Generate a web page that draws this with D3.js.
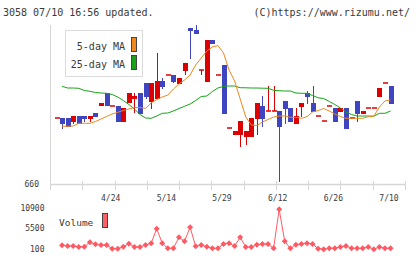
<!DOCTYPE html>
<html>
<head>
<meta charset="utf-8">
<script src="https://cdn.jsdelivr.net/npm/d3@7"></script>
<style>
  body { margin: 0; background: #fff; }
  text { font-family: "DejaVu Sans Mono", monospace; fill: #3a3a3a; }
</style>
</head>
<body>
<div id="chart-area"></div>
<script>
// daily candles, oldest first (price in yen)
var openP  = [725,725,725,721,727,727,724,730,737,750,737,737,721,740,744,750,760,741,744,762,
              768,768,759,772,815,813,773,761,803,768,778,715,708,708,706,706,724,737,732,732,
              732,742,735,719,736,750,740,727,722,737,735,731,735,725,742,729,735,735,746,760,757];
var highP  = [725,725,725,727,727,727,727,730,740,750,737,737,735,750,750,750,760,760,790,765,
              768,768,765,780,815,818,773,803,803,768,778,715,712,722,712,725,740,747,757,757,
              732,742,735,735,740,752,757,727,722,737,735,735,735,725,742,732,735,735,755,760,757];
var lowP   = [725,714,716,719,719,721,721,726,737,737,737,721,721,740,730,729,744,734,744,754,
              768,760,759,768,784,809,768,761,799,768,729,715,708,696,698,706,708,716,732,732,
              661,719,721,719,726,739,731,727,722,737,721,731,714,725,721,729,735,735,746,760,739];
var closeP = [725,719,716,727,719,724,727,726,740,737,737,721,735,750,747,729,746,760,762,756,
              768,761,765,780,812,809,773,803,799,768,729,715,712,722,712,725,740,724,732,732,
              716,734,721,727,740,746,731,727,722,737,721,735,714,725,729,732,735,735,755,760,739];

var ma5  = [null,716.7,716.7,717,719.7,719.7,719.7,721.5,724,726.5,729,730.7,732.5,734,735.5,735.5,
            734.7,740,743.5,746,748,754,759,763,768,778,785,792,796,797.5,790,773,762,744,726,718,
            717.5,721,723.5,726,727,727,725.7,725.7,724.7,726.3,731,732.5,734.5,732,729,726.5,724.7,
            724.7,724.7,724.7,726.3,726.7,736,742,743];
var ma25 = [null,756.7,755,755,754.7,752.5,751.7,750.5,750,749.7,748.5,746,742.5,738.5,734,728.5,
            725,724.7,727,729.7,730,732,734.5,736.7,739,742.5,746.5,747,751.5,755,756.7,757,757,
            755.3,755.2,755,755,754.8,754.7,752.7,752.3,752,752,750,749.7,749.7,747.5,745.2,744.5,
            741.5,738.5,735,731,728.5,727,727,727,726.8,729.7,729.7,732];

var volume = [null,1080,900,900,630,710,1880,1350,1160,1160,180,180,710,1510,630,630,1160,1610,5490,1610,
              290,290,3200,2140,5860,820,1160,710,290,290,1430,1610,900,3200,630,630,1240,1430,1430,290,
              10640,2140,290,1240,1430,1610,1430,180,50,290,290,630,900,290,290,290,630,50,630,290,290];

var tickLabels = ["4/24", "5/14", "5/29", "6/12", "6/26", "7/10"];
var tickIdx = [10, 20, 30, 40, 50, 60];
var priceTicks = [660];
var volTicks = [100, 5500, 10900];

var width = 420;
var height = 259;

var svg = d3.select("#chart-area")
  .append("svg")
  .attr("width", width)
  .attr("height", height);

svg.append("rect").attr("width", width).attr("height", height).attr("fill", "#fff");

var x = d3.scaleLinear().domain([0, openP.length - 1]).range([56.5, 390.5]);
var y = d3.scaleLinear().domain([660, 818]).range([183, 25]);
var yv = d3.scaleLinear().domain([100, 10900]).range([249, 208.3]);
var grid = d3.scaleLinear().domain([0, 11]).range([50, 405]);

// header
svg.append("text").attr("x", 3).attr("y", 16).attr("font-size", "10px")
  .text("3058 07/10 16:56 updated.");
svg.append("text").attr("x", 410).attr("y", 16).attr("font-size", "10px")
  .attr("text-anchor", "end").text("(C)https://www.rizumu.net/");

// axes
var axisCol = "#d6d6d6";
svg.append("line").attr("x1", 50.5).attr("x2", 50.5).attr("y1", 25).attr("y2", 184)
  .attr("stroke", axisCol);
svg.append("line").attr("x1", 50).attr("x2", 405).attr("y1", 184.5).attr("y2", 184.5)
  .attr("stroke", axisCol).attr("stroke-width", 1.5);
svg.selectAll(".gtick").data(d3.range(12)).enter()
  .append("line")
  .attr("x1", d => Math.round(grid(d)) + 0.5)
  .attr("x2", d => Math.round(grid(d)) + 0.5)
  .attr("y1", 181).attr("y2", 190)
  .attr("stroke", axisCol);

svg.selectAll(".ptick").data(priceTicks).enter()
  .append("text")
  .attr("x", 39).attr("y", d => y(d) + 1).attr("dy", "0.35em")
  .attr("text-anchor", "end").attr("font-size", "8px")
  .text(d => d);

svg.selectAll(".xlab").data(tickIdx).enter()
  .append("text")
  .attr("x", d => x(d) - 1.5).attr("y", 200.5)
  .attr("text-anchor", "middle").attr("font-size", "8px")
  .text((d, i) => tickLabels[i]);

// candles
var candles = openP.map((o, i) => ({ i: i, o: o, h: highP[i], l: lowP[i], c: closeP[i] }));
var col = d => d.c >= d.o ? "#dc0000" : "#3f45c0";

var cg = svg.append("g");
cg.selectAll(".wick").data(candles).enter()
  .append("line")
  .attr("x1", d => Math.round(x(d.i)) + 0.5)
  .attr("x2", d => Math.round(x(d.i)) + 0.5)
  .attr("y1", d => y(d.h)).attr("y2", d => y(d.l))
  .attr("stroke", col);
cg.selectAll(".body").data(candles).enter()
  .append("rect")
  .attr("x", d => Math.round(x(d.i)) - 2)
  .attr("width", 5)
  .attr("y", d => y(Math.max(d.o, d.c)) - (d.o == d.c ? 0.75 : 0))
  .attr("height", d => Math.max(1.5, Math.abs(y(d.o) - y(d.c))))
  .attr("fill", col);

// moving averages
var maLine = d3.line()
  .defined(d => d != null)
  .x((d, i) => x(i))
  .y(d => y(d));
svg.append("path").datum(ma25).attr("d", maLine)
  .attr("fill", "none").attr("stroke", "#16a416").attr("stroke-width", 1);
svg.append("path").datum(ma5).attr("d", maLine)
  .attr("fill", "none").attr("stroke", "#f0881a").attr("stroke-width", 1);

// legend
svg.append("rect").attr("x", 65.5).attr("y", 30.5).attr("width", 77).attr("height", 46)
  .attr("fill", "#fff").attr("stroke", "#dcdcdc");
svg.append("text").attr("x", 125).attr("y", 50).attr("font-size", "10px")
  .attr("text-anchor", "end").text("5-day MA");
svg.append("text").attr("x", 125).attr("y", 67.5).attr("font-size", "10px")
  .attr("text-anchor", "end").text("25-day MA");
svg.append("rect").attr("x", 131.5).attr("y", 37.5).attr("width", 5).attr("height", 14)
  .attr("fill", "#f0881a").attr("stroke", "#444");
svg.append("rect").attr("x", 131.5).attr("y", 55.5).attr("width", 5).attr("height", 14)
  .attr("fill", "#16a416").attr("stroke", "#444");

// volume panel
svg.selectAll(".vtick").data(volTicks).enter()
  .append("text")
  .attr("x", 44.5).attr("y", d => yv(d)).attr("dy", "0.35em")
  .attr("text-anchor", "end").attr("font-size", "8px")
  .text(d => d);

svg.append("text").attr("x", 59).attr("y", 226).attr("font-size", "9.5px").text("Volume");
svg.append("rect").attr("x", 102.5).attr("y", 213.5).attr("width", 5).attr("height", 14)
  .attr("fill", "#ff6068").attr("stroke", "#444");

var volCol = "#ff5a64";
svg.append("path").datum(volume)
  .attr("d", d3.line().defined(d => d != null).x((d, i) => x(i)).y(d => yv(d)))
  .attr("fill", "none").attr("stroke", volCol).attr("stroke-width", 1);

var diamond = d3.symbol(d3.symbolSquare).size(18);
svg.selectAll(".vpt").data(volume.map((v, i) => ({ v: v, i: i })).filter(d => d.v != null))
  .enter().append("path")
  .attr("d", diamond)
  .attr("transform", d => "translate(" + x(d.i) + "," + yv(d.v) + ") rotate(45)")
  .attr("fill", volCol);
</script>
</body>
</html>
